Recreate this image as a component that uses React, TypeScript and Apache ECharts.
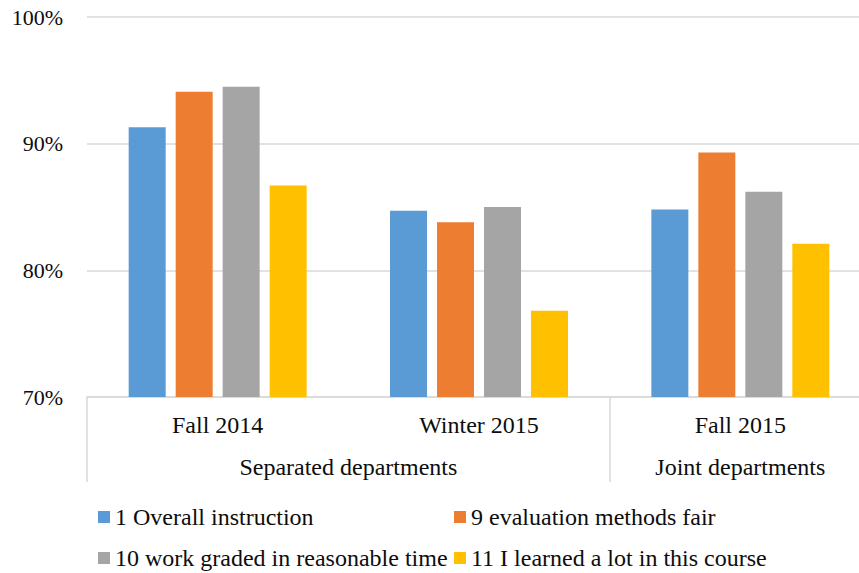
import React, { useEffect, useRef } from "react";
import * as echarts from "echarts";

const terms = ["Fall 2014", "Winter 2015", "Fall 2015"];
const groupLabels = ["Separated departments", "Joint departments"];
const yTicks = [70, 80, 90, 100];

const overallInstruction = [91.3, 84.7, 84.8];
const evaluationFair = [94.1, 83.8, 89.3];
const workGraded = [94.5, 85.0, 86.2];
const learnedALot = [86.7, 76.8, 82.1];

const seriesNames = [
  "1 Overall instruction",
  "9 evaluation methods fair",
  "10 work graded in reasonable time",
  "11 I learned a lot in this course",
];
const seriesData = [overallInstruction, evaluationFair, workGraded, learnedALot];
const colors = ["#5B9BD5", "#ED7D31", "#A5A5A5", "#FFC000"];

const FONT = "Liberation Serif";

export default function App() {
  const ref = useRef<HTMLDivElement>(null);

  useEffect(() => {
    if (!ref.current) return;
    const chart = echarts.init(ref.current, undefined, { renderer: "svg" });

    const legendPos = [
      { left: 98, top: 505 },
      { left: 454, top: 505 },
      { left: 98, top: 546 },
      { left: 454, top: 546 },
    ];

    chart.setOption({
      animation: false,
      backgroundColor: "#ffffff",
      textStyle: { fontFamily: FONT },
      grid: {
        left: 87,
        width: 784,
        top: 17,
        bottom: 176,
        containLabel: false,
        outerBoundsMode: "none",
      },
      legend: seriesNames.map((n, i) => ({
        data: [n],
        left: legendPos[i].left,
        top: legendPos[i].top,
        padding: 0,
        itemWidth: 12,
        itemHeight: 12,
        icon: "rect",
        selectedMode: false,
        textStyle: { fontSize: 24, fontFamily: FONT, color: "#0d0d0d" },
      })),
      xAxis: [
        {
          type: "category",
          data: terms,
          position: "bottom",
          axisLine: { show: true, lineStyle: { color: "#D9D9D9", width: 1.5 } },
          axisTick: { show: false },
          axisLabel: {
            fontSize: 24,
            fontFamily: FONT,
            color: "#0d0d0d",
            margin: 16,
          },
          splitLine: { show: false },
        },
        {
          type: "value",
          min: 0,
          max: 3,
          interval: 0.5,
          position: "bottom",
          axisLine: { show: false },
          axisTick: {
            show: true,
            customValues: [0, 2, 3],
            length: 85,
            lineStyle: { color: "#D9D9D9", width: 1.5 },
          },
          axisLabel: {
            customValues: [1, 2.5],
            fontSize: 24,
            fontFamily: FONT,
            color: "#0d0d0d",
            margin: 58,
            formatter: (v: number) =>
              v === 1 ? groupLabels[0] : v === 2.5 ? groupLabels[1] : "",
          },
          splitLine: { show: false },
        },
      ],
      yAxis: {
        type: "value",
        min: yTicks[0],
        max: yTicks[yTicks.length - 1],
        interval: 10,
        axisLine: { show: false },
        axisTick: { show: false },
        axisLabel: {
          fontSize: 22,
          fontFamily: FONT,
          color: "#0d0d0d",
          margin: 24,
          formatter: (v: number) => `${v}%`,
        },
        splitLine: { show: true, lineStyle: { color: "#D9D9D9", width: 1.5 } },
      },
      series: seriesNames.map((n, i) => ({
        name: n,
        type: "bar",
        xAxisIndex: 0,
        data: seriesData[i],
        barWidth: 37,
        barGap: "27%",
        itemStyle: { color: colors[i] },
      })),
    });

    return () => chart.dispose();
  }, []);

  return (
    <div
      ref={ref}
      style={{ position: "fixed", left: 0, top: 0, width: 859, height: 573 }}
    />
  );
}
